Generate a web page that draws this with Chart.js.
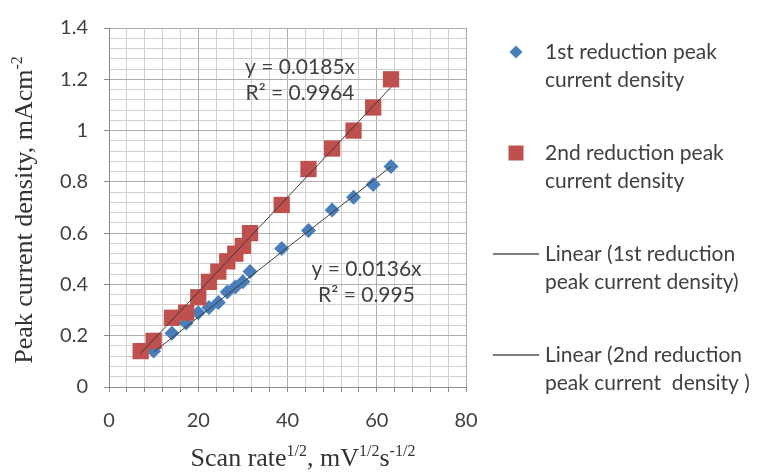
<!DOCTYPE html>
<html>
<head>
<meta charset="utf-8">
<script src="https://cdn.jsdelivr.net/npm/chart.js@4"></script>
<style>
  body { margin: 0; background: #fff; }
</style>
</head>
<body>
<canvas id="peakChart" width="757" height="472"></canvas>
<script>
// square root of scan rate, mV^1/2 s^-1/2
var rootRate1 = [10, 14.1, 17.3, 20, 22.4, 24.5, 26.5, 28.3, 30, 31.6, 38.7, 44.7, 50, 54.8, 59.2, 63.2];
var rootRate2 = [7.1, 10, 14.1, 17.3, 20, 22.4, 24.5, 26.5, 28.3, 30, 31.6, 38.7, 44.7, 50, 54.8, 59.2, 63.2];

// peak current density, mA cm^-2
var firstPeak = [0.14, 0.21, 0.25, 0.29, 0.31, 0.33, 0.37, 0.39, 0.41, 0.45, 0.54, 0.61, 0.69, 0.74, 0.79, 0.86];
var secondPeak = [0.14, 0.18, 0.27, 0.29, 0.35, 0.41, 0.45, 0.49, 0.52, 0.55, 0.60, 0.71, 0.85, 0.93, 1.00, 1.09, 1.20];

// linear fits through the origin
var slopes = [0.0136, 0.0185];
var rSquared = [0.995, 0.9964];

// labelled ticks
var xTicks = [0, 20, 40, 60, 80];
var yTicks = [0, 0.2, 0.4, 0.6, 0.8, 1, 1.2, 1.4];

var legendLines = [
    ['1st reduction peak', 'current density'],
    ['2nd reduction peak', 'current density'],
    ['Linear (1st reduction', 'peak current density)'],
    ['Linear (2nd reduction', 'peak current  density )']
];

var BLUE = '#4a7ebb';
var RED = '#c0504d';
var TEXT = '#404040';

function toPoints(xs, ys) {
    return xs.map(function(x, i) { return {x: x, y: ys[i]}; });
}

function fitLine(xs, k) {
    var lo = Math.min.apply(null, xs);
    var hi = Math.max.apply(null, xs);
    return [{x: lo, y: k * lo}, {x: hi, y: k * hi}];
}

function isTick(list, v) {
    return list.some(function(t) { return Math.abs(t - v) < 1e-6; });
}

// text with superscript pieces: [['Scan rate'], ['1/2', true], ...]
function richWidth(ctx, parts, size, family) {
    var w = 0;
    parts.forEach(function(p) {
        ctx.font = (p[1] ? Math.round(size * 0.62) : size) + 'px ' + family;
        w += ctx.measureText(p[0]).width;
    });
    return w;
}

function drawRich(ctx, parts, x, y, size, family) {
    parts.forEach(function(p) {
        var s = p[1] ? Math.round(size * 0.62) : size;
        ctx.font = s + 'px ' + family;
        ctx.fillText(p[0], x, p[1] ? y - size * 0.38 : y);
        x += ctx.measureText(p[0]).width;
    });
}

var xTitle = [['Scan rate'], ['1/2', true], [', mV'], ['1/2', true], ['s'], ['-1/2', true]];
var yTitle = [['Peak current density, mAcm'], ['-2', true]];

var titlePlugin = {
    id: 'axisTitles',
    afterDraw: function(chart) {
        var ctx = chart.ctx;
        var serif = '"Liberation Serif", "Times New Roman", serif';
        ctx.save();
        ctx.fillStyle = '#333333';
        ctx.textBaseline = 'alphabetic';
        ctx.textAlign = 'left';

        var w = richWidth(ctx, xTitle, 26, serif);
        drawRich(ctx, xTitle, 303 - w / 2, 466, 26, serif);

        ctx.translate(32, 210);
        ctx.rotate(-Math.PI / 2);
        w = richWidth(ctx, yTitle, 26, serif);
        drawRich(ctx, yTitle, -w / 2, 0, 26, serif);
        ctx.restore();
    }
};

// fit equations placed next to their lines (data coordinates)
var eqPlugin = {
    id: 'fitEquations',
    afterDatasetsDraw: function(chart) {
        var ctx = chart.ctx;
        var xs = chart.scales.x, ys = chart.scales.y;
        var spots = [{x: 57.7, y: 0.41}, {x: 42.8, y: 1.195}];
        ctx.save();
        ctx.font = '21px Lato';
        ctx.fillStyle = TEXT;
        ctx.textAlign = 'center';
        ctx.textBaseline = 'middle';
        slopes.forEach(function(k, i) {
            var cx = xs.getPixelForValue(spots[i].x);
            var cy = ys.getPixelForValue(spots[i].y);
            ctx.fillText('y = ' + k + 'x', cx, cy - 13);
            ctx.fillText('R\u00b2 = ' + rSquared[i], cx, cy + 13);
        });
        ctx.restore();
    }
};

var legendPlugin = {
    id: 'sideLegend',
    afterDraw: function(chart) {
        var ctx = chart.ctx;
        ctx.save();
        ctx.font = '21px Lato';
        ctx.textBaseline = 'middle';
        ctx.textAlign = 'left';
        chart.data.datasets.forEach(function(ds, i) {
            var cy = 52 + i * 101;
            if (ds.showLine) {
                ctx.strokeStyle = '#555555';
                ctx.lineWidth = 1.5;
                ctx.beginPath();
                ctx.moveTo(493, cy);
                ctx.lineTo(539, cy);
                ctx.stroke();
            } else {
                ctx.fillStyle = ds.backgroundColor;
                Chart.helpers.drawPoint(ctx, {
                    pointStyle: ds.pointStyle,
                    radius: ds.pointStyle === 'rect' ? 10.6 : 6.5,
                    rotation: 0,
                    borderWidth: 0
                }, 516, cy);
            }
            ctx.fillStyle = TEXT;
            legendLines[i].forEach(function(line, j) {
                ctx.fillText(line, 545, cy + j * 28.5);
            });
        });
        ctx.restore();
    }
};

var ctx = document.getElementById('peakChart').getContext('2d');

var peakChart = new Chart(ctx, {
    type: 'scatter',
    data: {
        datasets: [{
            label: '1st reduction peak current density',
            data: toPoints(rootRate1, firstPeak),
            pointStyle: 'rectRot',
            pointRadius: 7.5,
            backgroundColor: BLUE,
            borderWidth: 0,
            order: 3
        }, {
            label: '2nd reduction peak current density',
            data: toPoints(rootRate2, secondPeak),
            pointStyle: 'rect',
            pointRadius: 11.5,
            backgroundColor: RED,
            borderWidth: 0,
            order: 2
        }, {
            label: 'Linear (1st reduction peak current density)',
            data: fitLine(rootRate1, slopes[0]),
            showLine: true,
            pointRadius: 0,
            borderColor: '#3a3a3a',
            borderWidth: 1,
            order: 1
        }, {
            label: 'Linear (2nd reduction peak current density )',
            data: fitLine(rootRate2, slopes[1]),
            showLine: true,
            pointRadius: 0,
            borderColor: '#3a3a3a',
            borderWidth: 1,
            order: 0
        }]
    },
    options: {
        responsive: false,
        animation: false,
        layout: {
            padding: {top: 24, right: 291, left: 0, bottom: 0}
        },
        plugins: {
            legend: {display: false},
            tooltip: {enabled: false}
        },
        scales: {
            x: {
                type: 'linear',
                min: 0,
                max: 80,
                afterFit: function(scale) { scale.height = 85; },
                border: {color: '#8c8c8c'},
                grid: {
                    color: function(c) { return isTick(xTicks, c.tick.value) ? '#adadad' : '#d0d0d0'; },
                    tickColor: '#8c8c8c',
                    tickLength: 5
                },
                ticks: {
                    stepSize: 4,
                    autoSkip: false,
                    maxRotation: 0,
                    padding: 17,
                    color: TEXT,
                    font: {family: 'Lato', size: 20},
                    callback: function(v) { return isTick(xTicks, v) ? String(v) : ''; }
                }
            },
            y: {
                min: 0,
                max: 1.4,
                afterFit: function(scale) { scale.width = 109; },
                border: {color: '#8c8c8c'},
                grid: {
                    color: function(c) { return isTick(yTicks, c.tick.value) ? '#adadad' : '#d0d0d0'; },
                    tickColor: function(c) { return isTick(yTicks, c.tick.value) ? '#8c8c8c' : 'rgba(0,0,0,0)'; },
                    tickLength: 5
                },
                ticks: {
                    stepSize: 0.04,
                    autoSkip: false,
                    padding: 16,
                    color: TEXT,
                    font: {family: 'Lato', size: 20},
                    callback: function(v) { return isTick(yTicks, v) ? String(Math.round(v * 10) / 10) : ''; }
                }
            }
        }
    },
    plugins: [eqPlugin, titlePlugin, legendPlugin]
});
</script>
</body>
</html>
